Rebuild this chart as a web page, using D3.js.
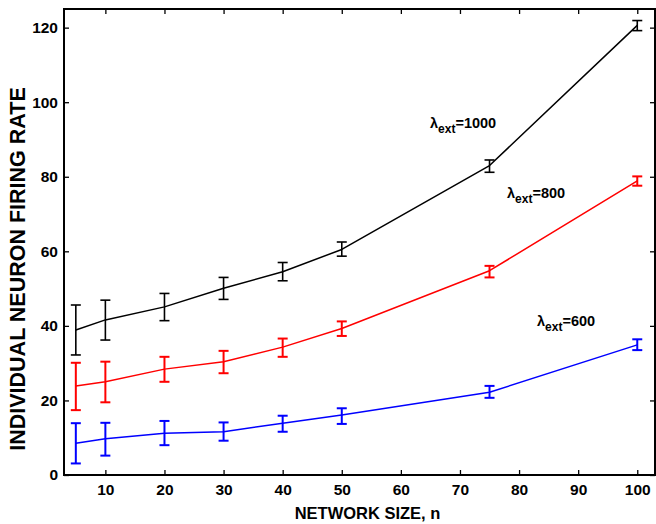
<!DOCTYPE html>
<html>
<head>
<meta charset="utf-8">
<script src="https://cdn.jsdelivr.net/npm/d3@7"></script>
<style>
  body { margin: 0; background: #fff; }
  text { font-family: "Liberation Sans", Arial, Helvetica, sans-serif; font-weight: bold; fill: #000; }
</style>
</head>
<body>
<svg id="chart"></svg>
<script>
// network sizes
const sizes = [5, 10, 20, 30, 40, 50, 75, 100];

// lambda_ext = 1000
const rate1000 = [38.9, 41.6, 45.1, 50.1, 54.5, 60.5, 83.0, 120.6];
const err1000Lo = [32.2, 36.2, 41.4, 47.1, 52.1, 58.7, 81.2, 119.2];
const err1000Hi = [45.6, 46.9, 48.7, 53.0, 57.0, 62.5, 84.5, 121.9];

// lambda_ext = 800
const rate800 = [23.9, 25.0, 28.4, 30.4, 34.3, 39.3, 54.8, 78.9];
const err800Lo = [17.4, 19.5, 25.0, 27.3, 31.7, 37.3, 53.0, 77.6];
const err800Hi = [30.1, 30.4, 31.7, 33.3, 36.6, 41.2, 56.1, 80.1];

// lambda_ext = 600
const rate600 = [8.5, 9.7, 11.2, 11.6, 13.9, 16.1, 22.2, 34.9];
const err600Lo = [3.1, 5.2, 8.0, 9.2, 11.6, 13.7, 20.7, 33.5];
const err600Hi = [13.9, 14.0, 14.5, 14.1, 15.9, 17.9, 23.9, 36.4];

const xTicks = [10, 20, 30, 40, 50, 60, 70, 80, 90, 100];
const yTicks = [0, 20, 40, 60, 80, 100, 120];

const series = [
  { name: "1000", color: "#000000", y: rate1000, lo: err1000Lo, hi: err1000Hi, label: [430, 128] },
  { name: "800", color: "#ff0000", y: rate800, lo: err800Lo, hi: err800Hi, label: [507, 198] },
  { name: "600", color: "#0000ff", y: rate600, lo: err600Lo, hi: err600Hi, label: [537, 326] }
];

const dimensions = {
  width: 656,
  height: 524,
  margin: { top: 9, right: 1, bottom: 49, left: 64 }
};
dimensions.boundedWidth = dimensions.width - dimensions.margin.left - dimensions.margin.right;
dimensions.boundedHeight = dimensions.height - dimensions.margin.top - dimensions.margin.bottom;

const wrapper = d3.select("#chart")
  .attr("width", dimensions.width)
  .attr("height", dimensions.height);

const bounds = wrapper.append("g")
  .attr("transform", `translate(${dimensions.margin.left},${dimensions.margin.top})`);

const xScale = d3.scaleLinear().domain([3, 103]).range([0, dimensions.boundedWidth]);
const yScale = d3.scaleLinear().domain([0, 125]).range([dimensions.boundedHeight, 0]);

// axes box with inward ticks on all four sides
const tickLen = 5;
const styleAxis = g => {
  g.select(".domain").remove();
  g.selectAll(".tick line").attr("stroke", "#000").attr("stroke-width", 1.3);
};

bounds.append("g")
  .attr("transform", `translate(0,${dimensions.boundedHeight})`)
  .call(d3.axisBottom(xScale).tickValues(xTicks).tickSize(-tickLen).tickPadding(9))
  .call(styleAxis)
  .call(g => g.selectAll(".tick text")
    .attr("font-size", 15.5).attr("font-family", null).attr("dy", "0.71em"));

bounds.append("g")
  .call(d3.axisTop(xScale).tickValues(xTicks).tickSize(-tickLen).tickFormat(""))
  .call(styleAxis);

bounds.append("g")
  .call(d3.axisLeft(yScale).tickValues(yTicks).tickSize(-tickLen).tickPadding(6))
  .call(styleAxis)
  .call(g => g.selectAll(".tick text")
    .attr("font-size", 15.5).attr("font-family", null));

bounds.append("g")
  .attr("transform", `translate(${dimensions.boundedWidth},0)`)
  .call(d3.axisRight(yScale).tickValues(yTicks).tickSize(-tickLen).tickFormat(""))
  .call(styleAxis);

bounds.append("rect")
  .attr("width", dimensions.boundedWidth)
  .attr("height", dimensions.boundedHeight)
  .attr("fill", "none")
  .attr("stroke", "#000")
  .attr("stroke-width", 2);

// lines
const line = d3.line()
  .x((d, i) => xScale(sizes[i]))
  .y(d => yScale(d));

const cap = 5;
series.forEach(s => {
  bounds.append("path")
    .datum(s.y)
    .attr("fill", "none")
    .attr("stroke", s.color)
    .attr("stroke-width", 1.5)
    .attr("stroke-linejoin", "round")
    .attr("d", line);

  const bars = bounds.append("g")
    .attr("stroke", s.color)
    .attr("stroke-width", s.color === "#000000" ? 1.6 : 2)
    .selectAll("g")
    .data(sizes.map((n, i) => ({ n, lo: s.lo[i], hi: s.hi[i] })))
    .join("g");

  bars.append("line")
    .attr("x1", d => xScale(d.n)).attr("x2", d => xScale(d.n))
    .attr("y1", d => yScale(d.lo)).attr("y2", d => yScale(d.hi));
  bars.append("line")
    .attr("x1", d => xScale(d.n) - cap).attr("x2", d => xScale(d.n) + cap)
    .attr("y1", d => yScale(d.lo)).attr("y2", d => yScale(d.lo));
  bars.append("line")
    .attr("x1", d => xScale(d.n) - cap).attr("x2", d => xScale(d.n) + cap)
    .attr("y1", d => yScale(d.hi)).attr("y2", d => yScale(d.hi));

  const t = wrapper.append("text")
    .attr("x", s.label[0])
    .attr("y", s.label[1])
    .attr("font-size", 14.5);
  t.append("tspan").text("λ");
  t.append("tspan").attr("font-size", 12).attr("dy", 4.5).text("ext");
  t.append("tspan").attr("dy", -4.5).text("=" + s.name);
});

// axis labels
wrapper.append("text")
  .attr("x", dimensions.margin.left + dimensions.boundedWidth / 2 + 8)
  .attr("y", 519)
  .attr("text-anchor", "middle")
  .attr("font-size", 16.5)
  .text("NETWORK SIZE, n");

wrapper.append("text")
  .attr("transform", "translate(25,269) rotate(-90)")
  .attr("text-anchor", "middle")
  .attr("font-size", 21.5)
  .text("INDIVIDUAL NEURON FIRING RATE");
</script>
</body>
</html>
